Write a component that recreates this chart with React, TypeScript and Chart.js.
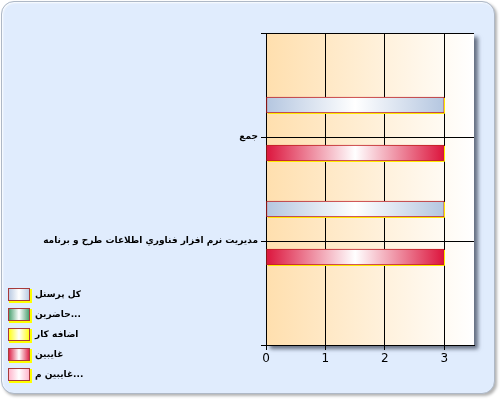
import React, { useEffect, useRef } from "react";
import { Chart, registerables } from "chart.js";

Chart.register(...registerables);

const categories = ["", "جمع", "مديريت نرم افزار فناوري اطلاعات طرح و برنامه", ""];
const seriesNames = ["کل پرسنل", "حاضرين...", "اضافه کار", "غايبين", "غايبين م..."];
const totalStaff = [null, 3, 3, null];
const present = [null, 0, 0, null];
const overtime = [null, 0, 0, null];
const absent = [null, 3, 3, null];
const absentMission = [null, 0, 0, null];
const xTicks = [0, 1, 2, 3];

const edgeColors = ["#B4C6E0", "#3E9A66", "#FFFF00", "#DC143C", "#FFB0C8"];
const FONT = "'DejaVu Sans', sans-serif";

function makeGrad(ctx: CanvasRenderingContext2D, x0: number, x1: number, edge: string) {
  const g = ctx.createLinearGradient(x0, 0, x1, 0);
  g.addColorStop(0, edge);
  g.addColorStop(0.5, "#ffffff");
  g.addColorStop(1, edge);
  return g;
}

export default function App() {
  const ref = useRef<HTMLCanvasElement | null>(null);
  useEffect(() => {
    if (!ref.current) return;
    const seriesData = [totalStaff, present, overtime, absent, absentMission];

    const bgPlugin = {
      id: "plotBg",
      beforeDraw(chart: any) {
        const { ctx, chartArea: ca } = chart;
        if (!ca) return;
        ctx.save();
        ctx.shadowColor = "rgba(60,70,90,0.75)";
        ctx.shadowBlur = 4;
        ctx.shadowOffsetX = 4;
        ctx.shadowOffsetY = 4;
        const g = ctx.createLinearGradient(ca.left, 0, ca.right, 0);
        g.addColorStop(0, "#FFDFAE");
        g.addColorStop(1, "#FFFFFF");
        ctx.fillStyle = g;
        ctx.fillRect(ca.left, ca.top, ca.right - ca.left, ca.bottom - ca.top);
        ctx.restore();
      },
      afterDatasetsDraw(chart: any) {
        const ctx = chart.ctx;
        ctx.save();
        ctx.strokeStyle = "#FFE800";
        ctx.lineWidth = 1;
        chart.data.datasets.forEach((_: any, i: number) => {
          const meta = chart.getDatasetMeta(i);
          meta.data.forEach((el: any) => {
            const p = el.getProps(["x", "y", "base", "height"], true);
            if (p.x == null || isNaN(p.x) || Math.abs(p.x - p.base) < 1) return;
            const l = Math.round(Math.min(p.x, p.base));
            const r = Math.round(Math.max(p.x, p.base));
            const t = Math.round(p.y - p.height / 2);
            const b = Math.round(p.y + p.height / 2);
            ctx.beginPath();
            ctx.moveTo(r + 0.5, t + 1);
            ctx.lineTo(r + 0.5, b + 0.5);
            ctx.lineTo(l + 1, b + 0.5);
            ctx.stroke();
          });
        });
        ctx.restore();
      },
      afterDraw(chart: any) {
        const ctx = chart.ctx;
        ctx.save();
        seriesNames.forEach((name, i) => {
          const top = 288 + i * 20;
          const x = 8, w = 22, h = 13;
          ctx.fillStyle = "#FFFF00";
          ctx.fillRect(x + 1, top + 1, w + 1, h + 1);
          ctx.fillStyle = makeGrad(ctx, x, x + w, edgeColors[i]);
          ctx.fillRect(x, top, w, h);
          ctx.strokeStyle = "#A83A3A";
          ctx.lineWidth = 1;
          ctx.strokeRect(x + 0.5, top + 0.5, w - 1, h - 1);
          ctx.fillStyle = "#000";
          ctx.font = `bold 9px ${FONT}`;
          ctx.textAlign = "left";
          ctx.textBaseline = "middle";
          const ty = top + h / 2 + 0.5;
          if (name.endsWith("...")) {
            const rest = name.slice(0, -3);
            ctx.fillText(rest, 35, ty);
            ctx.fillText("...", 35 + ctx.measureText(rest).width, ty);
          } else {
            ctx.fillText(name, 35, ty);
          }
        });
        ctx.restore();
      },
    };

    const chart = new Chart(ref.current, {
      type: "bar",
      data: {
        labels: categories,
        datasets: seriesNames.map((name, i) => ({
          label: name,
          data: seriesData[i] as any,
          backgroundColor: (c: any) => {
            const edge = edgeColors[i];
            if (c.type !== "data") return edge;
            const xs = c.chart.scales?.x;
            const v = c.parsed ? c.parsed.x : c.raw;
            if (!xs || v == null) return edge;
            const x0 = xs.getPixelForValue(0);
            const x1 = xs.getPixelForValue(v);
            if (!isFinite(x0) || !isFinite(x1) || Math.abs(x1 - x0) < 1) return edge;
            return makeGrad(c.chart.ctx, Math.min(x0, x1), Math.max(x0, x1), edge);
          },
          borderColor: "#C02020",
          borderWidth: 1,
          borderSkipped: false,
          barThickness: 16,
        })),
      },
      options: {
        indexAxis: "y",
        animation: false,
        responsive: false,
        maintainAspectRatio: false,
        layout: { padding: { top: 33, right: 26, left: 0, bottom: 30 } },
        plugins: { legend: { display: false }, tooltip: { enabled: false } },
        scales: {
          x: {
            type: "linear",
            min: 0,
            max: 3.5,
            afterBuildTicks: (s: any) => {
              s.ticks = xTicks.map((v) => ({ value: v }));
            },
            afterFit: (s: any) => {
              s.height = 25;
            },
            grid: { color: "#000", lineWidth: 1, tickLength: 5, drawOnChartArea: true },
            border: { color: "#000", width: 1 },
            ticks: { color: "#000", font: { family: FONT, size: 12 }, padding: 2 },
          },
          y: {
            type: "category",
            offset: false,
            afterFit: (s: any) => {
              s.width = 266;
            },
            grid: { color: "#000", lineWidth: 1, tickLength: 5, offset: false },
            border: { color: "#000", width: 1 },
            ticks: {
              autoSkip: false,
              color: "#000",
              font: { family: FONT, size: 9, weight: "bold" },
              padding: 3,
            },
          },
        },
      },
      plugins: [bgPlugin],
    } as any);
    return () => chart.destroy();
  }, []);

  return (
    <div style={{ position: "fixed", left: 0, top: 0, width: 500, height: 400, background: "#fff" }}>
      <div
        style={{
          position: "absolute",
          left: 1,
          top: 1,
          width: 492,
          height: 391,
          borderRadius: 13,
          background: "#E0ECFD",
          border: "1px solid #AEB8C6",
          boxShadow: "2px 2px 3px rgba(0,0,0,0.3), inset 1px 1px 2px rgba(255,255,255,0.9)",
        }}
      />
      <canvas
        ref={ref}
        width={500}
        height={400}
        style={{ position: "absolute", left: 0, top: 0, width: 500, height: 400 }}
      />
    </div>
  );
}
